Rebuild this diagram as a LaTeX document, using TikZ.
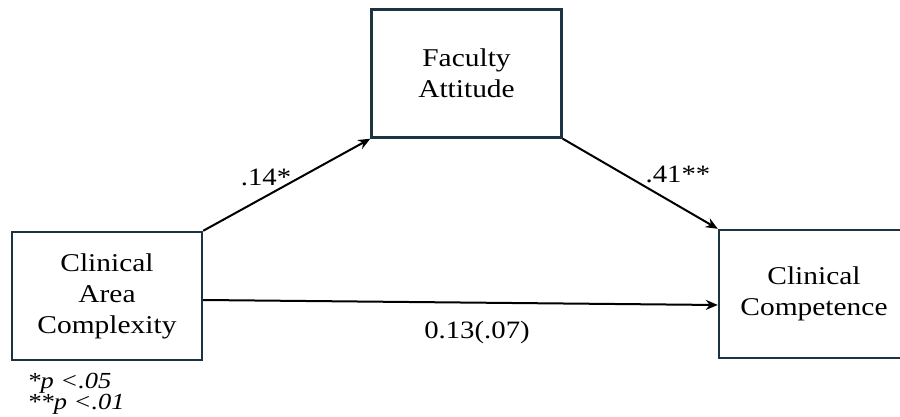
\documentclass[tikz,border=0pt]{standalone}
\usepackage{fontspec}
\setmainfont{Liberation Serif}[FakeStretch=1.15]
\usetikzlibrary{arrows.meta}
\definecolor{boxline}{RGB}{28,52,66}
\tikzset{
    varbox/.style={draw=boxline, line width=1.2pt, minimum width=95pt, minimum height=64pt,
        inner sep=0pt, align=center, font=\fontsize{12.8}{15.5}\selectfont},
    effect/.style={-{Stealth[length=6pt,width=5pt]}, line width=1pt},
    coef/.style={font=\fontsize{12.5}{15}\selectfont}
}
\begin{document}
\begin{tikzpicture}[x=0.5pt,y=-0.5pt]
    \useasboundingbox (0,0) rectangle (900,417);
    \clip (0,0) rectangle (900,417);
    % variables
    \node[varbox] (complexity) at (107,296) {Clinical\\Area\\Complexity};
    \node[varbox] (attitude) at (466.5,73.5) {Faculty\\Attitude};
    % right box runs off the edge, text kept centred at x=814
    \node[varbox, minimum width=140pt, text width=95pt] (competence) at (859,294)
        {\hspace*{-45pt}Clinical\\\hspace*{-45pt}Competence};
    % paths
    \draw[effect] (complexity.north east) -- (attitude.south west);
    \draw[effect] (attitude.south east) -- (competence.north west);
    \draw[effect] ([yshift=-2pt]complexity.east) -- ([yshift=-5.5pt]competence.west);
    % coefficients
    \node[coef] (a) at (266,177) {.14*};
    \node[coef] (b) at (678,174) {.41**};
    \node[coef] (c) at (477,332) {0.13(.07)};
    % notes
    \node[anchor=west, align=left, inner sep=0pt, font=\fontsize{11.5}{10.5}\selectfont\itshape] (notes) at (27,394) {*p <.05\\**p <.01};
\end{tikzpicture}
\end{document}
